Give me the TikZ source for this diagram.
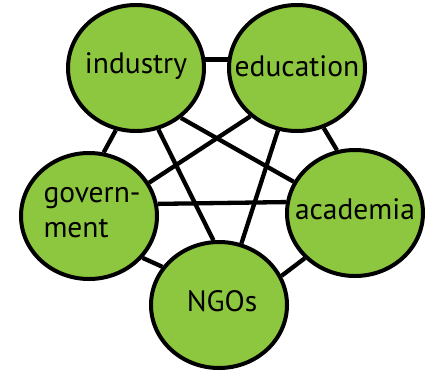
\documentclass[tikz,border=0pt]{standalone}
\usepackage{fontspec}
\setmainfont{PT Sans}
\usetikzlibrary{shapes.geometric,backgrounds}
\definecolor{leaf}{RGB}{141,198,63}

\begin{document}
\begin{tikzpicture}[x=1pt,y=-1pt,
    sector/.style={ellipse,draw=black,line width=4pt,fill=leaf,minimum width=136pt,
      minimum height=126pt,inner sep=0pt},
    every label/.style={align=left,inner sep=0pt,font=\fontsize{29.5}{35}\selectfont},
    link/.style={draw=black,line width=4.3pt}]
    \useasboundingbox (0,0) rectangle (435,375);

    \node[sector,label={[yshift=2pt]center:industry}] (ind) at (136,68) {};
    \node[sector,label={[yshift=2pt]center:education}] (edu) at (297,68) {};
    \node[sector,label={[xshift=3pt,yshift=3pt]center:govern-\\ment}] (gov) at (89,216) {};
    \node[sector,label={[yshift=4pt]center:academia}] (aca) at (355,213) {};
    \node[sector,label={[xshift=3pt,yshift=4pt]center:NGOs}] (ngo) at (219,305) {};

    \begin{scope}[on background layer]
      \foreach \a/\b in {ind.7/edu.173, gov.10/aca.171, gov.77/ind.252, edu.294/aca.106,
          gov.322/ngo.146, aca.222/ngo.25, ind.290/ngo.95, ind.312/aca.153,
          edu.226/gov.29, edu.253/ngo.70} {
        \draw[link] (\a) -- (\b);
      }
    \end{scope}

  \end{tikzpicture}
\end{document}
